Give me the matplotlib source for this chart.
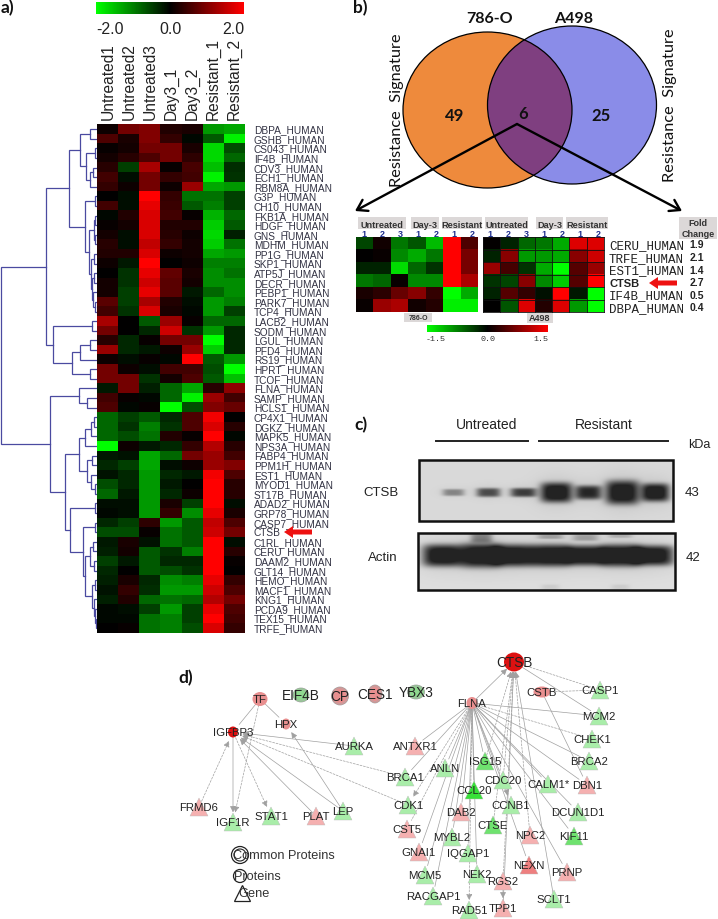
"""Composite figure: heatmap + dendrogram, venn + small heatmaps, western blot, network."""
import matplotlib
matplotlib.use("Agg")
import matplotlib.pyplot as plt
import numpy as np
from matplotlib.colors import LinearSegmentedColormap
from matplotlib.patches import Ellipse, Rectangle, FancyArrow

# panel a
samples_a = ["Untreated1", "Untreated2", "Untreated3", "Day3_1", "Day3_2", "Resistant_1", "Resistant_2"]
genes_a = ["DBPA_HUMAN", "GSHB_HUMAN", "CS043_HUMAN", "IF4B_HUMAN", "CDV3_HUMAN", "ECH1_HUMAN", "RBM8A_HUMAN",
           "G3P_HUMAN", "CH10_HUMAN", "FKB1A_HUMAN", "HDGF_HUMAN", "GNS_HUMAN", "MDHM_HUMAN", "PP1G_HUMAN",
           "SKP1_HUMAN", "ATP5J_HUMAN", "DECR_HUMAN", "PEBP1_HUMAN", "PARK7_HUMAN", "TCP4_HUMAN", "LACB2_HUMAN",
           "SODM_HUMAN", "LGUL_HUMAN", "PFD4_HUMAN", "RS19_HUMAN", "HPRT_HUMAN", "TCOF_HUMAN", "FLNA_HUMAN",
           "SAMP_HUMAN", "HCLS1_HUMAN", "CP4X1_HUMAN", "DGKZ_HUMAN", "MAPK5_HUMAN", "NPS3A_HUMAN", "FABP4_HUMAN",
           "PPM1H_HUMAN", "EST1_HUMAN", "MYOD1_HUMAN", "ST17B_HUMAN", "ADAD2_HUMAN", "GRP78_HUMAN", "CASP7_HUMAN",
           "CTSB", "C1RL_HUMAN", "CERU_HUMAN", "DAAM2_HUMAN", "GLT14_HUMAN", "HEMO_HUMAN", "MACF1_HUMAN",
           "KNG1_HUMAN", "PCDA9_HUMAN", "TEX15_HUMAN", "TRFE_HUMAN"]
heat_a = [
    [0.1, 0.9, 1.0, 0.25, 0.2, -1.2, -1.3], [0.6, 0.2, 1.0, 0.4, -0.05, -0.7, -1.9],
    [0.05, 0.15, 0.9, 0.9, 0.2, -1.7, -0.6], [0.15, 0.3, 0.6, 0.9, 0.35, -1.7, -0.8],
    [0.3, -0.5, 1.3, 0.05, 0.55, -1.5, -0.35], [0.5, -0.1, 0.9, 0.4, 0.5, -1.9, -0.4],
    [0.4, 0.1, 0.9, 0.1, 1.2, -1.3, -1.2], [0.0, -0.1, 2.0, 0.4, -0.9, -0.9, -0.5],
    [0.5, -0.1, 1.8, 0.45, -0.7, -1.0, -0.5], [-0.05, 0.25, 1.7, 0.5, 0.05, -1.4, -0.8],
    [0.05, 0.15, 1.7, 0.25, 0.25, -1.6, -0.7], [0.15, -0.1, 1.7, 0.3, 0.1, -1.7, -0.25],
    [0.3, -0.1, 1.5, 0.4, 0.15, -1.6, -0.9], [0.25, 0.25, 1.7, 0.1, 0.15, -1.3, -1.2],
    [0.1, -0.2, 2.0, 0.0, 0.1, -1.0, -1.0], [0.0, -0.4, 1.8, 0.75, 0.2, -1.1, -0.9],
    [0.15, -0.4, 1.6, 0.7, 0.15, -1.1, -1.1], [0.15, -0.5, 1.8, 0.7, -0.2, -0.8, -1.1],
    [0.7, -0.5, 1.3, 0.25, -0.1, -1.2, -1.0], [0.5, -0.4, 1.7, 0.2, -0.05, -1.2, -0.5],
    [1.3, 0.0, -0.7, 1.2, 0.05, -0.8, -0.8], [0.9, 0.0, -0.3, 1.6, -0.4, -1.2, -0.3],
    [0.3, -0.3, 0.05, 0.9, 0.9, -2.0, -0.3], [1.2, -0.3, -0.2, 0.1, 1.2, -1.6, -0.3],
    [0.1, -0.1, 0.05, -0.05, 2.0, -0.7, -1.2], [0.9, 0.1, -0.1, 0.5, 0.5, -0.6, -2.0],
    [0.9, 0.9, -0.4, 0.15, 0.6, -0.7, -1.5], [-0.2, 0.9, -0.25, -0.8, -1.3, 0.3, 1.1],
    [0.5, 0.05, -0.05, -0.8, -1.9, 1.2, 0.5], [0.6, -0.05, 0.05, -2.0, -0.6, 1.0, 0.8],
    [-0.8, -0.5, -0.7, -0.3, 0.6, 1.9, 0.0], [-0.8, -0.4, -1.0, -0.4, 0.6, 1.7, 0.3],
    [-0.8, -0.6, -0.9, 0.25, 0.05, 2.0, -0.05], [-2.0, 0.1, -0.2, -0.3, 0.4, 1.4, 0.3],
    [-0.2, -0.15, -1.3, -0.8, 0.9, 1.2, 0.5], [-0.3, -0.5, -1.3, -0.1, 0.1, 1.2, 1.0],
    [-0.15, -0.3, -1.2, -0.3, -0.2, 1.9, 0.6], [-0.6, -0.3, -1.2, -0.2, 0.0, 2.0, 0.3],
    [-0.8, -0.2, -1.2, -0.3, 0.1, 2.0, 0.3], [-0.1, -0.1, -1.2, 0.2, -0.5, 2.0, -0.1],
    [-0.05, -0.1, -1.2, 0.4, -1.1, 1.8, 0.2], [-0.3, -0.5, 0.35, -1.2, -0.7, 1.5, 0.6],
    [-0.6, -0.6, 0.05, -0.9, -0.7, 1.6, 0.9], [-0.2, 0.2, -0.15, -0.9, -0.7, 2.0, -0.1],
    [-0.25, 0.15, -0.7, -0.4, -1.0, 2.0, 0.3], [-0.5, -0.2, -0.7, -0.3, -0.3, 2.0, 0.05],
    [-0.3, 0.0, -0.7, -0.6, -0.4, 2.0, 0.0], [-0.25, 0.2, -0.3, -1.1, -1.0, 1.8, 0.4],
    [-0.15, 0.4, -0.35, -1.2, -1.2, 1.6, 0.6], [-0.25, 0.25, -0.8, -0.9, -0.8, 1.4, 0.9],
    [-0.05, -0.1, -0.5, -1.2, -0.5, 1.8, 0.6], [-0.05, -0.05, -0.9, -1.0, -0.5, 2.0, 0.5],
    [0.0, 0.05, -0.9, -1.0, -0.6, 1.7, 0.4],
]
# dendrogram as nested (merge_x, left, right), leaves are row numbers
tree_top = (80, (90, 0, 1), (86, (95, 2, 3), (90, (93, 4, 5), 6)))
tree_mid = (85, (95, 7, 8), (89, (94, (95, 9, 10), (95, 11, 12)),
                             (91, (94, 13, 14), (92, (94, 15, 16), (93, 17, (95, 18, 19))))))
tree_low = (53, (92, 20, 21), (72, (80, (90, 22, 23), 24), (90, 25, 26)))
tree_flna = (79, 27, (87, 28, 29))
tree_cp4 = (79, (85, (91, (94, 30, 31), 32), 33), (87, (92, 34, 35), (91, 36, (95, 37, 38))))
tree_end = (70, (95, 39, 40), (83, (95, 41, 42),
                               (85, (90, (93, 43, 44), (94, 45, 46)),
                                (92, (95, 47, 48), (94, 49, (95, 50, (96, 51, 52)))))))
tree = (1, (46, (69, tree_top, tree_mid), tree_low), (50, tree_flna, (65, tree_cp4, tree_end)))

# panel b
heat_786 = [[-0.4, 0.1, -0.7, -0.5, -1.1, 1.5, 0.45], [0.0, 0.05, -0.8, -1.0, -0.7, 1.5, 0.7],
            [-0.2, -0.2, -1.3, -0.6, -0.3, 1.5, 0.7], [-0.7, -0.6, 0.05, -0.8, -0.8, 1.5, 1.0],
            [0.15, 0.25, 0.6, 0.8, 0.3, -1.5, -1.0], [0.05, 0.9, 1.0, 0.1, 0.2, -1.4, -1.4]]
heat_a498 = [[0.02, -0.2, -0.6, -0.7, -1.0, 1.3, 1.3], [-0.2, 0.8, -0.9, -0.9, -1.0, 0.8, 1.2],
             [0.9, 0.4, -0.3, -1.0, -1.5, 0.5, 0.9], [-0.3, -0.4, 0.8, -0.8, -1.2, 0.5, 1.5],
             [-0.2, 0.5, 0.3, -0.1, 1.5, -0.15, -1.5], [0.0, -0.5, 1.3, 0.2, 1.3, -0.9, -1.5]]
genes_b = ["CERU_HUMAN", "TRFE_HUMAN", "EST1_HUMAN", "CTSB", "IF4B_HUMAN", "DBPA_HUMAN"]
fold_change = ["1.9", "2.1", "1.4", "2.7", "0.5", "0.4"]
venn_counts = ["49", "6", "25"]
group_names = ["Untreated", "Day-3", "Resistant"]
replicates = ["1", "2", "3", "1", "2", "1", "2"]

# panel c: lane centre, band half width, band half height, darkness
ctsb_x = [453, 488, 523, 556, 588, 622, 655]
ctsb_w = [11, 12, 13, 16, 13, 17, 14]
ctsb_h = [3.5, 4.5, 4.5, 10, 7, 12, 9]
ctsb_dark = [0.3, 0.5, 0.55, 0.72, 0.62, 0.72, 0.72]
actin_x = [442, 480, 513, 550, 585, 620, 653]
actin_h = [11, 12, 11, 11, 10, 11, 10]

# panel d
node_names = ["TF", "EIF4B", "CP", "CES1", "YBX3", "HPX", "IGFBP3", "CTSB", "CSTB", "FLNA",
              "AURKA", "ANTXR1", "BRCA1", "ANLN", "ISG15", "CDC20", "CCL20", "CALM1*", "DBN1", "CCNB1",
              "DAB2", "CDK1", "CST5", "CTSE", "MYBL2", "NPC2", "KIF11", "DCUN1D1", "GNAI1", "IQGAP1",
              "NEXN", "PRNP", "MCM5", "NEK2", "RGS2", "RACGAP1", "RAD51", "TPP1", "SCLT1", "CASP1",
              "MCM2", "CHEK1", "BRCA2", "FRMD6", "IGF1R", "STAT1", "PLAT", "LEP"]
node_x = [260, 301, 340, 375, 416, 286, 233, 514, 542, 472,
          354, 415, 405, 445, 485, 503, 474, 548, 587, 511,
          461, 408, 407, 493, 452, 530, 574, 578, 419, 468,
          529, 567, 425, 477, 503, 433, 469, 503, 554, 600,
          599, 592, 589, 199, 233, 271, 316, 343]
node_y = [700, 696, 697, 695, 693, 725, 733, 663, 693, 704,
          747, 747, 778, 769, 762, 781, 791, 785, 786, 806,
          813, 806, 830, 826, 838, 836, 837, 813, 853, 854,
          866, 873, 876, 875, 882, 897, 911, 909, 900, 691,
          717, 740, 762, 808, 823, 817, 817, 812]
node_kind = ["c", "c2", "c2", "c2", "c2", "c", "c", "c", "c", "c"] + ["t"] * 38
node_tone = ["up", "dn", "up", "up", "dn", "up", "top", "top", "up", "up",
             "dn", "up", "dn", "dn", "dn2", "dn", "dn3", "dn", "up", "dn",
             "up", "dn", "up", "dn2", "dn", "up", "dn2", "dn", "up", "dn",
             "up2", "up", "dn", "dn", "up", "dn", "dn", "up", "dn", "dn",
             "dn", "dn", "dn", "up", "dn", "dn", "up", "dn"]
# source, target, dashed, has arrow head
edges = [("FLNA", t, False, False) for t in
         ["ANTXR1", "BRCA1", "ANLN", "CCL20", "DAB2", "GNAI1", "MCM5", "RACGAP1", "MYBL2", "IQGAP1", "NEK2",
          "CALM1*", "DBN1", "DCUN1D1", "KIF11", "BRCA2", "MCM2", "CCNB1", "CDC20", "NEXN", "PRNP", "ISG15"]]
edges += [("FLNA", "CHEK1", True, False), ("FLNA", "CST5", True, False), ("FLNA", "RAD51", True, True),
          ("FLNA", "CDK1", True, True), ("FLNA", "CTSB", False, True), ("SCLT1", "CTSB", False, True),
          ("RGS2", "CTSB", True, True), ("TPP1", "CTSB", False, True), ("NPC2", "CTSB", True, True),
          ("CTSE", "CTSB", True, True), ("CDC20", "CTSB", True, True), ("ISG15", "CTSB", True, True),
          ("CTSB", "CASP1", True, False), ("CTSB", "MCM2", False, False), ("CSTB", "CASP1", True, False),
          ("CSTB", "DBN1", False, False), ("RGS2", "TPP1", False, True), ("CDC20", "CCNB1", True, True),
          ("AURKA", "IGFBP3", False, True), ("BRCA1", "IGFBP3", True, True), ("CDK1", "IGFBP3", True, True),
          ("LEP", "IGFBP3", False, True), ("PLAT", "IGFBP3", False, True), ("IGFBP3", "STAT1", True, True),
          ("IGFBP3", "IGF1R", False, True), ("FRMD6", "IGFBP3", True, True), ("TF", "IGFBP3", False, False),
          ("TF", "IGF1R", True, True), ("TF", "HPX", False, False), ("LEP", "HPX", False, True)]

green_red = LinearSegmentedColormap.from_list("gr", ["#00ff00", "#000000", "#ff0000"])
tones = {"up": "#f5b0b0", "up2": "#ee7f7f", "dn": "#a9eda9", "dn2": "#6fe26f", "dn3": "#38e038", "top": "#dd1111"}
circle_tones = {"up": "#e88f8f", "dn": "#8fd88f", "top": "#dd1111"}
big_labels = ["EIF4B", "CP", "CES1", "YBX3", "CTSB"]
blue_line = "#4a4aa0"

fig = plt.figure(figsize=(7.18, 9.2), dpi=100)
ax = fig.add_axes([0, 0, 1, 1])
sans = "Liberation Sans"
calibri = "Lato"


def panel_label(x, y, s):
    ax.text(x, y, s, fontsize=12.5, fontweight="bold", family=calibri, va="center", ha="left", color="#111111")


def heat(values, x0, x1, y0, y1, vmax):
    ax.imshow(values, cmap=green_red, vmin=-vmax, vmax=vmax, extent=(x0, x1, y1, y0), aspect="auto",
              interpolation="nearest", zorder=2)


def dendro(node, row_y, xleaf):
    # returns (x, y) of this node so the parent can join onto it
    if not isinstance(node, tuple):
        return xleaf, row_y(node)
    mx, left, right = node
    lx, ly = dendro(left, row_y, xleaf)
    rx, ry = dendro(right, row_y, xleaf)
    ax.plot([lx, mx, mx, rx], [ly, ly, ry, ry], color=blue_line, lw=0.9, solid_joinstyle="miter", zorder=1)
    return mx, (ly + ry) / 2


def red_arrow(x_tail, x_tip, y):
    ax.add_patch(FancyArrow(x_tail, y, x_tip - x_tail, 0, width=5, head_width=12, head_length=9,
                            length_includes_head=True, color="#ee1111", lw=0, zorder=4))


# ---- panel a
panel_label(1, 8, "a)")
gradient = np.linspace(-2, 2, 256)[None, :]
heat(gradient, 96, 244, 3, 15, 2)
for s, x in zip(["-2.0", "0.0", "2.0"], [110, 170, 233]):
    ax.text(x, 29, s, fontsize=11.5, family=sans, ha="center", va="center", color="#222222")

hx0, hx1, hy0, hy1 = 96.5, 244, 125.5, 634
heat(heat_a, hx0, hx1, hy0, hy1, 2)
col_w = (hx1 - hx0) / len(samples_a)
row_h = (hy1 - hy0) / len(genes_a)
for i, s in enumerate(samples_a):
    ax.text(hx0 + (i + 0.5) * col_w + 1, 120, s, rotation=90, fontsize=11.2, family=sans,
            ha="center", va="bottom", color="#222222")
for i, s in enumerate(genes_a):
    ax.text(254, hy0 + (i + 0.5) * row_h, s, fontsize=7.3, family=sans, ha="left", va="center", color="#333344")
dendro(tree, lambda i: hy0 + (i + 0.5) * row_h, hx0)
red_arrow(312, 284, 533)

# ---- panel b
panel_label(353, 8, "b)")
orange = Ellipse((487.5, 111), 169, 156, fc="#ee8a3c", ec="none", zorder=1)
blue = Ellipse((572, 106), 169, 158, fc="#8a8ce8", ec="none", zorder=1)
ax.add_patch(orange)
ax.add_patch(blue)
overlap = Ellipse((572, 106), 169, 158, fc="#7f3f80", ec="none", zorder=1.5)
ax.add_patch(overlap)
overlap.set_clip_path(orange)
for c in [(487.5, 111, 156), (572, 106, 158)]:
    ax.add_patch(Ellipse(c[:2], 169, c[2], fc="none", ec="black", lw=0.9, zorder=2))
ax.text(490, 19, "786-O", fontsize=11.5, fontweight="bold", family=calibri, ha="center", va="center", color="#111111")
ax.text(574, 19, "A498", fontsize=11.5, fontweight="bold", family=calibri, ha="center", va="center", color="#111111")
for x, y in [(397, 110), (670, 105)]:
    ax.text(x, y, "Resistance  Signature", rotation=90, fontsize=11.8, family=calibri,
            ha="center", va="center", color="#111111", zorder=3)
for s, x, y in zip(venn_counts, [455, 523, 601], [116, 114, 116]):
    ax.text(x, y, s, fontsize=12, fontweight="bold", family=calibri, ha="center", va="center", color="#111111", zorder=3)
for tip in [(355, 212), (682, 212)]:
    ax.annotate("", xy=tip, xytext=(517, 125), zorder=3,
                arrowprops=dict(arrowstyle="->,head_width=0.45,head_length=0.7", lw=1.7, color="black",
                                shrinkA=0, shrinkB=0))

heat(heat_786, 356, 478, 238, 313, 1.5)
heat(heat_a498, 483, 604, 238, 313, 1.5)
for i in range(8):
    ax.plot([483 + i * 121 / 7] * 2, [238, 313], color="#111111", lw=0.6, zorder=3)
for i in range(7):
    ax.plot([483, 604], [238 + i * 12.5] * 2, color="#111111", lw=0.6, zorder=3)
grey_box = "#dcd8d8"
box_spans = [(358, 406), (411, 439), (442, 482), (485, 528), (536, 563), (566, 608)]
for (a, b), s in zip(box_spans, group_names * 2):
    ax.add_patch(Rectangle((a, 218), b - a, 12, fc=grey_box, ec="none", zorder=1))
    ax.text((a + b) / 2, 226, s, fontsize=6.6, fontweight="bold", family=sans, ha="center", va="center", color="#333333")
for x0, dx in [(364, 18), (490, 18)]:
    for i, s in enumerate(replicates):
        ax.text(x0 + i * dx, 234.5, s, fontsize=6.5, fontweight="bold", family=sans, ha="center", va="center", color="#1f2f8f")
for i, (g, f) in enumerate(zip(genes_b, fold_change)):
    y = 246 + i * 12.6
    if g == "CTSB":
        ax.text(609, y, g, fontsize=8, fontweight="bold", family=sans, ha="left", va="center", color="#222222")
    else:
        ax.text(609, y, g, fontsize=9, family="Liberation Mono", ha="left", va="center", color="#222222")
    ax.text(697, y - 0.5, f, fontsize=7.5, fontweight="bold", family=sans, ha="center", va="center", color="#222222")
red_arrow(677, 649, 284)
ax.add_patch(Rectangle((679, 218), 38, 22, fc=grey_box, ec="none", zorder=1))
ax.text(698, 229, "Fold\nChange", fontsize=6.5, fontweight="bold", family=sans, ha="center", va="center",
        color="#333333", linespacing=1.25)
for a, b, h, s, fs in [(404, 432, 9, "786-O", 5), (527, 553, 10, "A498", 6.5)]:
    ax.add_patch(Rectangle((a, 314), b - a, h, fc=grey_box, ec="none", zorder=1))
    ax.text((a + b) / 2, 314 + h / 2, s, fontsize=fs, fontweight="bold", family=sans, ha="center", va="center", color="#333333")
heat(np.linspace(-1.5, 1.5, 256)[None, :], 427, 548, 326, 333, 1.5)
for s, x in zip(["-1.5", "0.0", "1.5"], [436, 488, 541]):
    ax.text(x, 339.5, s, fontsize=6, family="Liberation Mono", ha="center", va="center", color="#333333")

# ---- panel c
panel_label(354, 425, "c)")
ax.text(487, 425, "Untreated", fontsize=10, family=sans, ha="center", va="center", color="#222222")
ax.text(604, 425, "Resistant", fontsize=10, family=sans, ha="center", va="center", color="#222222")
ax.plot([436, 528], [441.5, 441.5], color="#222222", lw=1.4)
ax.plot([539, 668], [441.5, 441.5], color="#222222", lw=1.4)
ax.text(699, 445, "kDa", fontsize=9, family=sans, ha="center", va="center", color="#222222")
ax.text(381, 493, "CTSB", fontsize=9.5, family=sans, ha="center", va="center", color="#222222")
ax.text(383, 558, "Actin", fontsize=9.5, family=sans, ha="center", va="center", color="#222222")
ax.text(692, 493, "43", fontsize=9.5, family=sans, ha="center", va="center", color="#222222")
ax.text(693, 558, "42", fontsize=9.5, family=sans, ha="center", va="center", color="#222222")


def blot(x0, x1, y0, y1, bands, base):
    xx, yy = np.meshgrid(np.arange(x0, x1), np.arange(y0, y1))
    img = np.full(xx.shape, base, dtype=float)
    for cx, cy, w, h, d in bands:
        core = np.exp(-(((xx - cx) / w) ** 4 + ((yy - cy) / h) ** 4))
        halo = np.exp(-(((xx - cx) / (w * 1.25)) ** 2 + ((yy - cy) / (h * 1.5)) ** 2))
        img -= d * core + 0.12 * d * halo
    ax.imshow(np.clip(img, 0.14, 1), cmap="gray", vmin=0, vmax=1, extent=(x0, x1, y1, y0), aspect="auto",
              interpolation="bilinear", zorder=1)
    ax.add_patch(Rectangle((x0, y0), x1 - x0, y1 - y0, fc="none", ec="#111111", lw=1.8, zorder=2))


blot(419, 673, 461, 522,
     [(x, 493, w, h, d) for x, w, h, d in zip(ctsb_x, ctsb_w, ctsb_h, ctsb_dark)], 0.85)
actin_bands = [(x, 556, 20, h, 0.74) for x, h in zip(actin_x, actin_h)]
actin_bands += [(481, 538, 11, 5, 0.3), (550, 537, 13, 2.5, 0.2), (585, 538, 13, 3.5, 0.2), (620, 536, 12, 2.5, 0.15),
                (550, 588, 9, 3, 0.06), (620, 588, 9, 3, 0.06)]
blot(418, 675, 534, 591, actin_bands, 0.87)

# ---- panel d
panel_label(178, 678, "d)")
pos = {n: (x, y) for n, x, y in zip(node_names, node_x, node_y)}
for src, dst, dashed, head in edges:
    ax.annotate("", xy=pos[dst], xytext=pos[src], zorder=1,
                arrowprops=dict(arrowstyle="-|>,head_width=0.3,head_length=0.6" if head else "-", mutation_scale=6,
                                lw=0.5, color="#a0a0a0", linestyle=(0, (3, 2)) if dashed else "-",
                                shrinkA=2, shrinkB=7))
for n, x, y, k, t in zip(node_names, node_x, node_y, node_kind, node_tone):
    if k == "t":
        ax.plot(x, y, "^", ms=12.5, color=tones[t], mec="#bbbbbb", mew=0.3, zorder=2)
    else:
        w = {"TF": 15, "EIF4B": 16, "CP": 17, "CES1": 14, "YBX3": 17, "HPX": 9, "IGFBP3": 10,
             "CTSB": 20, "CSTB": 17, "FLNA": 11}[n]
        h = {"YBX3": 14, "EIF4B": 14, "CP": 18, "CES1": 18, "TF": 14, "HPX": 11, "IGFBP3": 11,
             "CTSB": 19, "CSTB": 11, "FLNA": 12}[n]
        ax.add_patch(Ellipse((x, y), w, h, fc=circle_tones[t.rstrip("23")], ec="#999999" if k == "c2" else "none",
                             lw=0.5, zorder=2))
        if k == "c2":
            ax.add_patch(Ellipse((x, y), w - 3, h - 3, fc="none", ec="#aaaaaa", lw=0.4, zorder=2))
    ax.text(x, y, n, fontsize=9.8 if n in big_labels else 8.2, family=sans, ha="center", va="center",
            color="#222222", zorder=3)

# legend of node shapes
ax.add_patch(Ellipse((240, 856), 17, 17, fc="none", ec="#222222", lw=0.9))
ax.add_patch(Ellipse((240, 856), 12, 12, fc="none", ec="#222222", lw=0.8))
ax.text(233, 856, "Common Proteins", fontsize=9.2, family=sans, ha="left", va="center", color="#333333")
ax.add_patch(Ellipse((240, 877), 13, 13, fc="none", ec="#222222", lw=0.9))
ax.text(234, 877, "Proteins", fontsize=9.2, family=sans, ha="left", va="center", color="#333333")
ax.plot(242, 894, "^", ms=11, mfc="none", mec="#222222", mew=0.9)
ax.text(238, 894, "Gene", fontsize=9.2, family=sans, ha="left", va="center", color="#333333")

ax.set_xlim(0, 718)
ax.set_ylim(920, 0)
ax.axis("off")
fig.savefig("out.png", dpi=100)
